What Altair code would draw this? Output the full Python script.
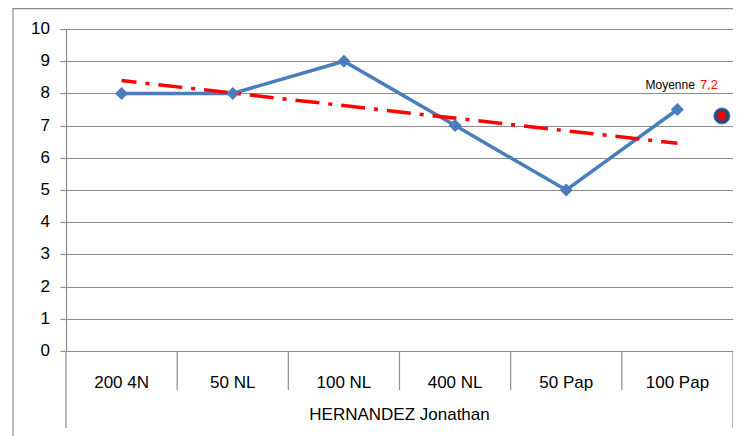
import altair as alt
import pandas as pd

categories = ["200 4N", "50 NL", "100 NL", "400 NL", "50 Pap", "100 Pap"]
scores = [8, 8, 9, 7, 5, 7.5]
trend_values = [8.4, 6.45]          # trend line at first and last category
moyenne_value = 7.3
moyenne_label = "7,2"
group_label = "HERNANDEZ Jonathan"
y_ticks = [0, 1, 2, 3, 4, 5, 6, 7, 8, 9, 10]

FONT = "Liberation Sans"
GRID = "#8c8c8c"

idx = list(range(1, len(categories) + 1))
df = pd.DataFrame({"i": idx, "cat": categories, "score": scores})
trend_df = pd.DataFrame({"i": [idx[0], idx[-1]], "score": trend_values})
moy_df = pd.DataFrame({"i": [6.4], "score": [moyenne_value]})
tick_df = pd.DataFrame({"score": y_ticks, "lab": [str(v) for v in y_ticks]})
sep_inner = pd.DataFrame({"i": [1.5, 2.5, 3.5, 4.5, 5.5]})
sep_outer = pd.DataFrame({"i": [0.5, 6.5]})
grp_df = pd.DataFrame({"i": [3.5], "t": [group_label]})

xs = alt.Scale(domain=[0.5, 6.5], nice=False, zero=False)
X = alt.X("i:Q", scale=xs, axis=None)
yaxis = alt.Axis(values=y_ticks, grid=True, gridColor=GRID,
                 gridWidth=1.2, domainColor=GRID, domainWidth=1.2,
                 tickColor=GRID, tickSize=6, tickWidth=1.2,
                 labels=False)
Y = alt.Y("score:Q", scale=alt.Scale(domain=[0, 10], nice=False), title=None, axis=yaxis)

line = alt.Chart(df).mark_line(color="#4A7EBB", strokeWidth=3.5).encode(x=X, y=Y)
pts = alt.Chart(df).mark_point(shape="diamond", filled=True, size=170,
                               color="#4A7EBB", opacity=1).encode(x=X, y=Y)

trend = alt.Chart(trend_df).mark_line(color="#FF0000", strokeWidth=3.5,
                                      strokeDash=[24, 9, 4, 9], strokeDashOffset=9).encode(x=X, y=Y)

moy_outer = alt.Chart(moy_df).mark_point(shape="circle", filled=True, size=260,
                                         color="#2C4A78", opacity=1,
                                         stroke="#5C7FB3", strokeWidth=1).encode(x=X, y=Y)
moy_inner = alt.Chart(moy_df).mark_point(shape="circle", filled=True, size=80,
                                         color="#FF0000", opacity=1).encode(x=X, y=Y)
moy_txt = alt.Chart(moy_df).mark_text(text="Moyenne", align="right", baseline="middle",
                                      dx=-27, dy=-31, font=FONT, fontSize=12,
                                      color="#000000").encode(x=X, y=Y)
moy_val = alt.Chart(moy_df).mark_text(text=moyenne_label, align="left", baseline="middle",
                                      dx=-22, dy=-31, font=FONT, fontSize=13,
                                      color="#FF0000").encode(x=X, y=Y)

ylab = alt.Chart(tick_df).mark_text(align="right", baseline="middle", font=FONT,
                                    fontSize=17, color="#000000").encode(
    x=alt.value(-16), y=Y, text="lab:N")

cat_txt = alt.Chart(df).mark_text(baseline="middle", font=FONT, fontSize=17,
                                  color="#000000").encode(
    x=X, y=alt.value(354), text="cat:N")
grp_txt = alt.Chart(grp_df).mark_text(baseline="middle", font=FONT, fontSize=17,
                                      color="#000000").encode(
    x=X, y=alt.value(386), text="t:N")
sep1 = alt.Chart(sep_inner).mark_rule(color=GRID, strokeWidth=1.2).encode(
    x=X, y=alt.value(322), y2=alt.value(361))
sep2 = alt.Chart(sep_outer).mark_rule(color=GRID, strokeWidth=1.2).encode(
    x=X, y=alt.value(322), y2=alt.value(399))

border_left = alt.Chart(grp_df).mark_rule(color=GRID, strokeWidth=1.2).encode(
    x=alt.value(-53), y=alt.value(-21), y2=alt.value(410))
border_top = alt.Chart(grp_df).mark_rule(color=GRID, strokeWidth=1.5).encode(
    x=alt.value(-53), x2=alt.value(700), y=alt.value(-20.5))

chart = alt.layer(
    line, border_left, border_top, sep1, sep2, ylab, cat_txt, grp_txt,
    trend, pts, moy_outer, moy_inner, moy_txt, moy_val
).properties(
    width=667, height=322,
    padding={"left": 58, "top": 21, "right": 0, "bottom": 85},
    autosize=alt.AutoSizeParams(type="none"),
).configure_view(stroke=None).configure(background="#ffffff")

chart.save("out.html", embed_options={"renderer": "svg", "actions": False})
